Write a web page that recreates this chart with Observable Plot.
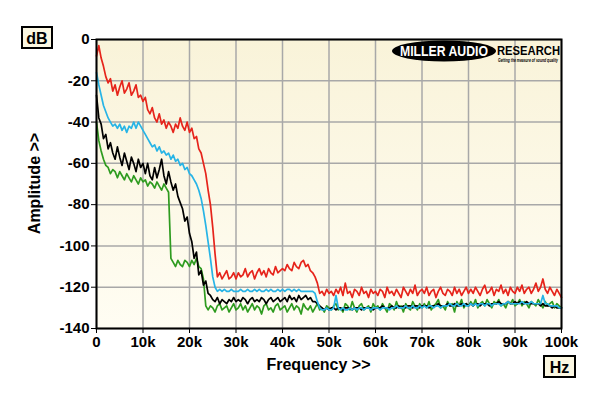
<!DOCTYPE html>
<html><head><meta charset="utf-8">
<script src="https://cdn.jsdelivr.net/npm/d3@7"></script>
<script src="https://cdn.jsdelivr.net/npm/@observablehq/plot@0.6"></script>
<style>
html,body{margin:0;padding:0;background:#fff;}
#chart{position:relative;width:600px;height:396px;}
</style>
</head><body><div id="chart"></div>
<script>
// Frequency step between samples (Hz)
const STEP = 500;
const xTicks = [0,10000,20000,30000,40000,50000,60000,70000,80000,90000,100000];
const xTickLabels = ["0","10k","20k","30k","40k","50k","60k","70k","80k","90k","100k"];
const yTicks = [0,-20,-40,-60,-80,-100,-120,-140];

const redDb = [
 -8,-3,-9,-13,-18,-21,-19,-25,-22,-27,-23,-20,-26,-24,-21,-27,-25,-22,-28,-27,-30,
 -28,-34,-36,-33,-38,-40,-36,-41,-39,-43,-40,-42,-45,-41,-43,-38,-42,-44,-40,-45,
 -43,-48,-47,-53,-55,-60,-65,-73,-80,-91,-104,-115,-113,-116,-114,-112,-116,-115,-113,-116,
 -113,-115,-114,-111,-115,-113,-112,-116,-113,-111,-114,-112,-115,-111,-113,-114,-110,-113,-112,-111,
 -112,-109,-111,-112,-108,-110,-111,-108,-107,-110,-109,-112,-113,-115,-118,-123,-122,-124,-121,-123,
 -122,-124,-121,-123,-120,-124,-118,-123,-122,-125,-121,-122,-124,-120,-123,-122,-125,-121,-123,-122,
 -124,-121,-122,-125,-120,-123,-122,-124,-121,-123,-125,-120,-122,-124,-121,-123,-119,-124,-122,-121,
 -123,-120,-124,-122,-121,-125,-122,-120,-123,-124,-121,-122,-124,-120,-123,-121,-124,-122,-120,-123,
 -121,-123,-120,-122,-124,-121,-119,-123,-122,-120,-124,-121,-122,-119,-123,-121,-124,-120,-122,-123,
 -120,-122,-119,-123,-121,-120,-123,-121,-118,-122,-120,-116,-121,-123,-120,-122,-124,-121,-123,-125
];
const cyanDb = [
 -16,-22,-27,-32,-35,-38,-40,-42,-41,-43,-41,-44,-42,-45,-42,-43,-40,-43,-40,-42,-44,
 -46,-48,-50,-52,-51,-54,-52,-55,-54,-56,-55,-58,-56,-59,-58,-61,-60,-63,-62,-65,
 -66,-68,-70,-73,-77,-83,-90,-98,-106,-115,-120,-122,-121,-122,-121,-122,-122,-121,-122,-122,
 -122,-121,-122,-122,-121,-122,-122,-121,-122,-121,-122,-122,-121,-122,-121,-122,-122,-121,-122,-121,
 -122,-121,-121,-122,-121,-122,-121,-122,-122,-122,-122,-122,-122,-123,-127,-130,-131,-131,-130,-131,
 -131,-130,-124,-130,-131,-130,-131,-131,-130,-131,-130,-131,-130,-130,-131,-130,-130,-131,-130,-130,
 -130,-131,-130,-130,-130,-131,-130,-130,-129,-130,-130,-130,-129,-130,-130,-129,-130,-130,-129,-130,
 -129,-130,-129,-129,-130,-129,-129,-130,-129,-129,-129,-128,-129,-129,-128,-129,-129,-128,-129,-129,
 -128,-129,-128,-129,-128,-128,-129,-128,-128,-129,-128,-128,-128,-129,-128,-128,-127,-128,-128,-128,
 -128,-128,-127,-128,-128,-128,-127,-128,-128,-128,-128,-124,-128,-128,-129,-129,-129,-129,-130,-130
];
const blackDb = [
 -27,-38,-41,-48,-46,-53,-50,-55,-58,-52,-57,-61,-55,-59,-63,-57,-60,-64,-58,-62,-60,
 -65,-60,-66,-68,-62,-67,-63,-58,-66,-70,-64,-69,-73,-70,-76,-79,-82,-88,-86,-94,
 -98,-106,-103,-114,-112,-119,-117,-123,-124,-126,-127,-125,-128,-126,-127,-128,-126,-127,-125,-127,
 -126,-127,-125,-126,-128,-126,-125,-127,-126,-127,-125,-126,-128,-126,-125,-127,-126,-125,-127,-126,
 -125,-127,-124,-126,-125,-127,-124,-126,-125,-124,-126,-125,-127,-127,-128,-129,-130,-131,-130,-131,
 -130,-130,-131,-130,-130,-131,-130,-130,-130,-131,-130,-130,-130,-131,-130,-130,-130,-130,-131,-130,
 -130,-130,-129,-130,-130,-130,-129,-130,-130,-129,-130,-129,-130,-129,-129,-130,-129,-129,-130,-129,
 -129,-129,-130,-129,-129,-129,-128,-129,-129,-129,-128,-129,-129,-128,-129,-129,-128,-129,-128,-129,
 -128,-129,-128,-128,-129,-128,-128,-128,-129,-128,-128,-128,-127,-128,-128,-128,-127,-128,-128,-127,
 -128,-127,-128,-128,-127,-128,-128,-128,-128,-128,-129,-128,-129,-129,-129,-130,-129,-130,-130,-130
];
const greenDb = [
 -40,-49,-54,-58,-61,-62,-65,-63,-64,-67,-64,-66,-68,-65,-67,-69,-66,-68,-70,-67,-69,
 -68,-71,-69,-70,-72,-69,-71,-73,-70,-72,-74,-106,-108,-110,-107,-109,-110,-107,-108,-110,
 -107,-109,-106,-110,-111,-116,-129,-131,-129,-130,-132,-129,-128,-131,-130,-129,-132,-130,-128,-131,
 -130,-128,-131,-129,-132,-130,-128,-131,-129,-130,-133,-129,-128,-131,-130,-132,-129,-128,-131,-130,
 -129,-132,-130,-128,-131,-129,-130,-133,-128,-130,-131,-129,-132,-130,-128,-131,-130,-132,-129,-130,
 -131,-129,-128,-131,-130,-132,-128,-129,-131,-127,-130,-132,-129,-128,-131,-130,-129,-132,-128,-130,
 -129,-131,-128,-130,-132,-128,-129,-131,-127,-130,-129,-132,-128,-130,-131,-127,-129,-131,-128,-130,
 -128,-130,-127,-131,-129,-128,-126,-130,-129,-131,-127,-129,-128,-132,-127,-129,-126,-130,-128,-129,
 -127,-129,-126,-130,-128,-127,-129,-126,-128,-130,-127,-128,-126,-129,-128,-130,-127,-128,-126,-129,
 -128,-126,-129,-127,-128,-130,-127,-128,-129,-126,-128,-130,-127,-129,-128,-127,-130,-128,-129,-130
];

const toRows = arr => arr.map((v, i) => ({f: i * STEP, db: v}));
const series = [
  {rows: toRows(greenDb), color: "#2e9b1f"},
  {rows: toRows(blackDb), color: "#000000"},
  {rows: toRows(redDb), color: "#e6241b"},
  {rows: toRows(cyanDb), color: "#27b4e6"}
];

const chart = Plot.plot({
  width: 600, height: 396,
  marginLeft: 96, marginRight: 39, marginTop: 39, marginBottom: 68,
  style: {fontFamily: "'Liberation Sans', Arial, sans-serif", fontSize: "15px", fontWeight: "bold", background: "transparent", color: "#000"},
  x: {domain: [0, 100000], ticks: xTicks, tickFormat: d => xTickLabels[xTicks.indexOf(d)], label: null},
  y: {domain: [-140, 0], ticks: yTicks, tickFormat: d => String(d), label: null},
  marks: [
    Plot.gridX(xTicks, {stroke: "#a8a8a8", strokeOpacity: 1, strokeWidth: 1.5}),
    Plot.gridY(yTicks, {stroke: "#a8a8a8", strokeOpacity: 1, strokeWidth: 1.5}),
    Plot.axisX(xTicks, {tickSize: 5, tickPadding: 3, tickFormat: d => xTickLabels[xTicks.indexOf(d)], label: null}),
    Plot.axisY(yTicks, {tickSize: 5, tickPadding: 2, tickFormat: d => String(d), label: null}),
    ...series.map(s => Plot.line(s.rows, {x: "f", y: "db", stroke: s.color, strokeWidth: 1.7})),
    Plot.frame({stroke: "#000", strokeWidth: 2})
  ]
});

const svg = d3.select(chart);
const sx = chart.scale("x"), sy = chart.scale("y");
const [x0, x1] = sx.range, [y0, y1] = sy.range; // y0 bottom, y1 top
const defs = svg.insert("defs", ":first-child");
const grad = defs.append("linearGradient").attr("id", "bgGrad").attr("x1", 0).attr("y1", 0).attr("x2", 0).attr("y2", 1);
grad.append("stop").attr("offset", "0%").attr("stop-color", "#f9f3d9");
grad.append("stop").attr("offset", "100%").attr("stop-color", "#fffdf3");
const firstG = chart.querySelector("g");
const bg = document.createElementNS("http://www.w3.org/2000/svg", "rect");
bg.setAttribute("x", Math.min(x0, x1)); bg.setAttribute("y", Math.min(y0, y1));
bg.setAttribute("width", Math.abs(x1 - x0)); bg.setAttribute("height", Math.abs(y0 - y1));
bg.setAttribute("fill", "url(#bgGrad)");
chart.insertBefore(bg, firstG);

const font = "'Liberation Sans', Arial, sans-serif";
// axis titles
svg.append("text").attr("x", (x0 + x1) / 2 - 10).attr("y", 370).attr("text-anchor", "middle")
  .attr("font-family", font).attr("font-weight", "bold").attr("font-size", 16).text("Frequency >>");
svg.append("text").attr("transform", `translate(40,${(y0 + y1) / 2}) rotate(-90)`).attr("text-anchor", "middle")
  .attr("font-family", font).attr("font-weight", "bold").attr("font-size", 16).text("Amplitude >>");
// unit boxes
function unitBox(x, y, w, h, label) {
  svg.append("rect").attr("x", x).attr("y", y).attr("width", w).attr("height", h)
    .attr("fill", "#fbf7e2").attr("stroke", "#000").attr("stroke-width", 2);
  svg.append("text").attr("x", x + w / 2).attr("y", y + h / 2 + 6).attr("text-anchor", "middle")
    .attr("font-family", font).attr("font-weight", "bold").attr("font-size", 16).text(label);
}
unitBox(22, 27, 30, 21, "dB");
unitBox(544, 356, 31, 21, "Hz");
// logo
svg.append("ellipse").attr("cx", 444).attr("cy", 51).attr("rx", 52).attr("ry", 10.5).attr("fill", "#000");
svg.append("text").attr("x", 400).attr("y", 56).attr("text-anchor", "start").attr("textLength", 88).attr("lengthAdjust", "spacingAndGlyphs")
  .attr("font-family", font).attr("font-weight", 900).attr("font-size", 14).attr("fill", "#fff").text("MILLER AUDIO");
svg.append("text").attr("x", 497).attr("y", 55).attr("text-anchor", "start").attr("textLength", 63).attr("lengthAdjust", "spacingAndGlyphs")
  .attr("font-family", font).attr("font-weight", 900).attr("font-size", 13).attr("fill", "#000").text("RESEARCH");
svg.append("text").attr("x", 498).attr("y", 61.5).attr("text-anchor", "start").attr("textLength", 60).attr("lengthAdjust", "spacingAndGlyphs")
  .attr("font-family", font).attr("font-weight", "bold").attr("font-style", "italic").attr("font-size", 4.5).attr("fill", "#000").text("Getting the measure of sound quality");

document.getElementById("chart").appendChild(chart);
</script>
</body></html>
